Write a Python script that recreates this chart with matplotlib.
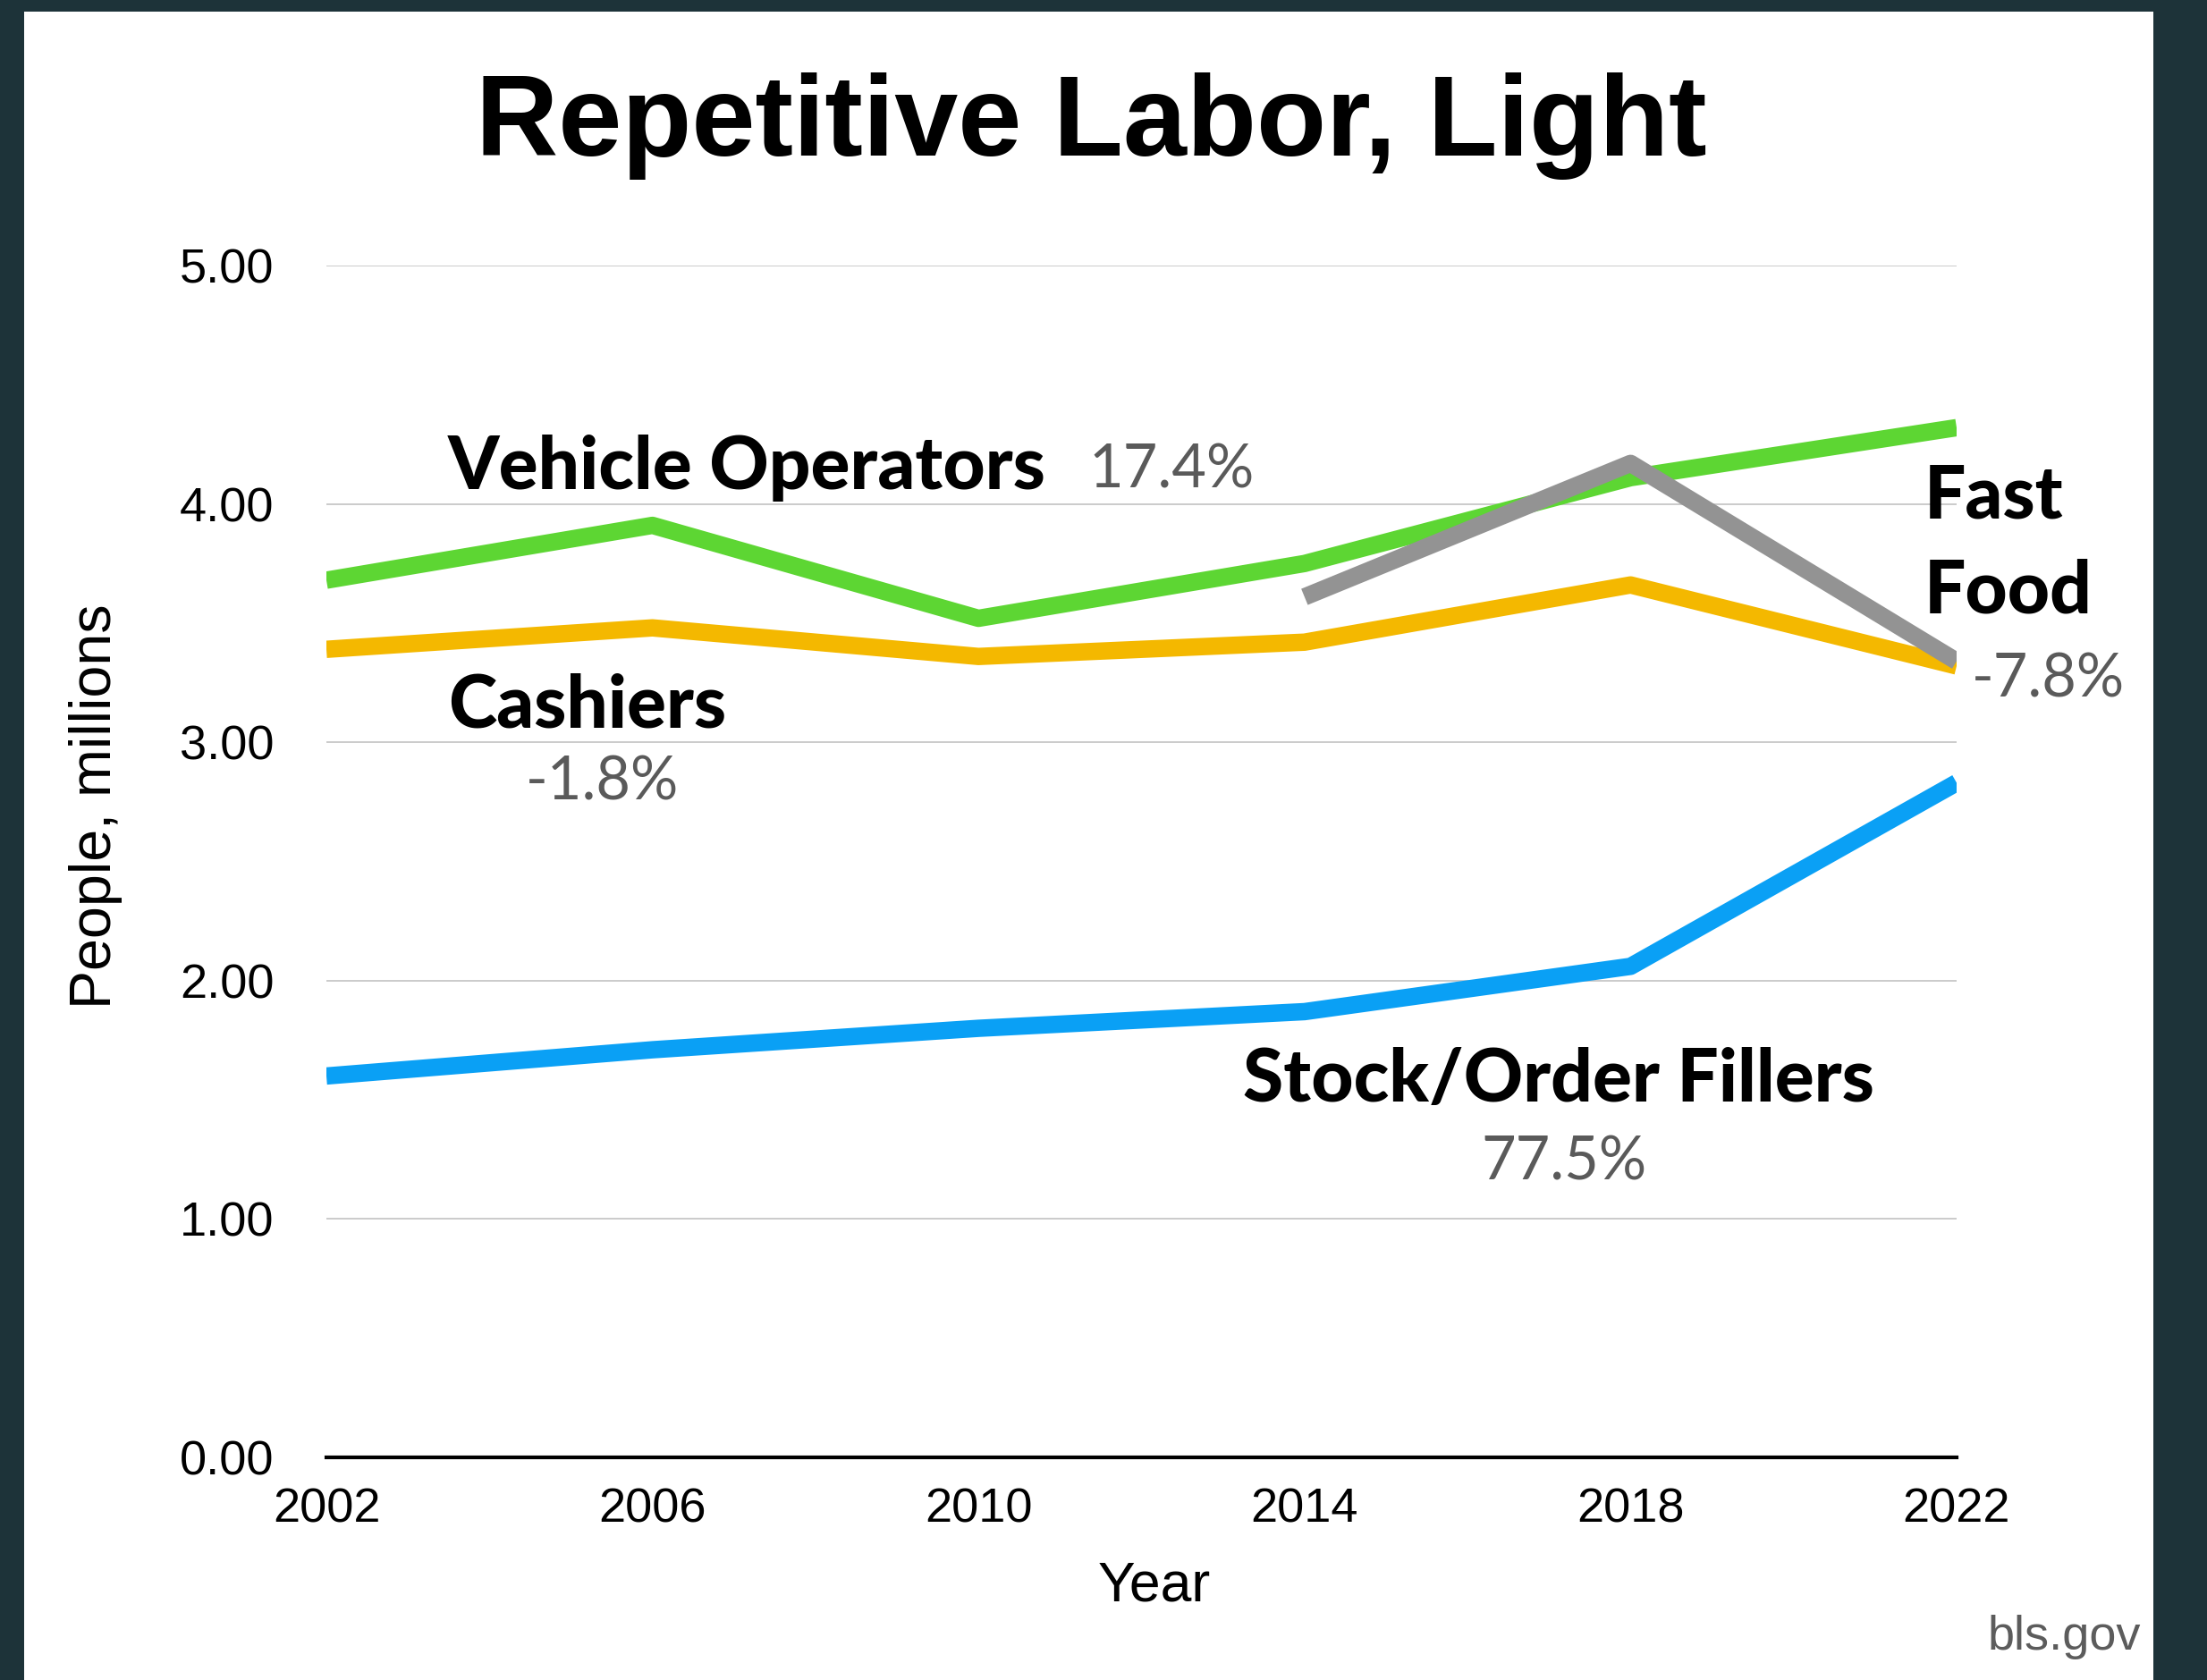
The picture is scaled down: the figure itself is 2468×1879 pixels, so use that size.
import matplotlib
matplotlib.use("Agg")
import matplotlib.pyplot as plt
from matplotlib.patches import Rectangle

# data (millions of people)
years = [2002, 2006, 2010, 2014, 2018, 2022]
vehicle_ops = [3.68, 3.91, 3.52, 3.75, 4.11, 4.32]
cashiers = [3.39, 3.48, 3.36, 3.42, 3.66, 3.32]
fast_food_years = [2014, 2018, 2022]
fast_food = [3.61, 4.17, 3.34]
stock_fillers = [1.60, 1.71, 1.80, 1.87, 2.06, 2.83]

yticks = [0, 1, 2, 3, 4, 5]

W, H = 2468, 1879
fig = plt.figure(figsize=(W / 100, H / 100), dpi=100, facecolor="#1d3339")
fig.patches.append(Rectangle((27 / W, 0), (2408 - 27) / W, (H - 13) / H,
                             transform=fig.transFigure, facecolor="white",
                             edgecolor="none", zorder=0))

ax = fig.add_axes([365 / W, (H - 1630) / H, (2188 - 365) / W, (1630 - 297) / H])
ax.set_facecolor("none")
ax.set_zorder(2)

lw = 14
ax.plot(years, stock_fillers, color="#0aa0f5", lw=lw, solid_capstyle="butt", zorder=3)
ax.plot(years, cashiers, color="#f4b800", lw=lw, solid_capstyle="butt", zorder=3)
ax.plot(years, vehicle_ops, color="#5dd633", lw=lw, solid_capstyle="butt", zorder=4)
ax.plot(fast_food_years, fast_food, color="#939393", lw=lw, solid_capstyle="butt", zorder=5)

ax.set_xlim(2002, 2022)
ax.set_ylim(0, 5)
ax.set_xticks(years)
ax.set_yticks(yticks)
ax.set_yticklabels([f"{v:.2f}" for v in yticks])
for s in ["left", "right", "top"]:
    ax.spines[s].set_visible(False)
ax.spines["bottom"].set_linewidth(3)
ax.spines["bottom"].set_zorder(6)
ax.grid(axis="y", color="#bdbdbd", lw=1.1, zorder=1)
ax.tick_params(length=0, labelsize=39)
ax.tick_params(axis="y", pad=42)
ax.tick_params(axis="x", pad=24)
for lab in ax.get_xticklabels() + ax.get_yticklabels():
    lab.set_fontfamily("Liberation Sans")

# axis titles placed where the original has them
fig.text(107 / W, 1 - 902 / H, "People, millions", rotation=90, ha="center", va="center",
         fontsize=46.5, family="Liberation Sans")
fig.text(1291 / W, 1 - 1774 / H, "Year", ha="center", va="center",
         fontsize=45, family="Liberation Sans")

bold = dict(family="Lato", weight="black", fontsize=59, color="black", va="center")
pct = dict(family="Lato", fontsize=48, color="#5a5a5a", va="center")

ax.text(2003.49, 4.15, "Vehicle Operators", ha="left", **bold)
ax.text(2011.35, 4.14, "17.4%", ha="left", **pct)
ax.text(2003.49, 3.15, "Cashiers", ha="left", **bold)
ax.text(2005.38, 2.83, "-1.8%", ha="center", **pct)
ax.text(2021.6, 4.03, "Fast", ha="left", **bold)
ax.text(2021.6, 3.63, "Food", ha="left", **bold)
ax.text(2022.18, 3.26, "-7.8%", ha="left", **pct)
ax.text(2017.12, 1.58, "Stock/Order Fillers", ha="center", **bold)
ax.text(2017.18, 1.235, "77.5%", ha="center", **pct)

fig.text(1220 / W, 1 - 141 / H, "Repetitive Labor, Light", ha="center", va="center",
         fontsize=92, weight="bold", family="Liberation Sans")
fig.text(2394 / W, 1 - 1845 / H, "bls.gov", ha="right", va="baseline",
         fontsize=39, color="#5c5c5c", family="Liberation Sans")

fig.savefig("out.png", dpi=100, facecolor=fig.get_facecolor())
